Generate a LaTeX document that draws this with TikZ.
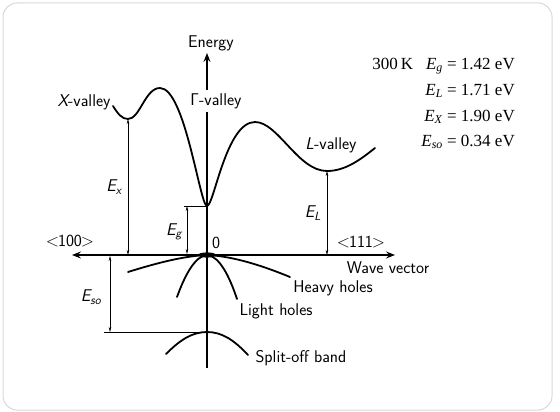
\documentclass[tikz,border=0pt]{standalone}
\usepackage{fontspec}
\newfontfamily\valfont{Liberation Serif}
\usetikzlibrary{arrows.meta}
\tikzset{
  lab/.style={font=\sffamily\fontsize{17}{20}\selectfont, inner sep=1pt},
  val/.style={font=\valfont\fontsize{17}{20}\selectfont, anchor=east, inner sep=0pt},
  band/.style={line width=1.8pt, line cap=round},
  gap/.style={line width=0.6pt, {Stealth[length=5pt,width=2.6pt]}-{Stealth[length=5pt,width=2.6pt]}},
  axis/.style={line width=1.1pt},
}
\newcommand\dirlab[1]{$<$\kern-1pt#1\kern-1pt$>$}
\begin{document}
\begin{tikzpicture}[x=1pt,y=-1pt,>={Stealth[length=9pt,width=7pt,inset=3.5pt]}]
\useasboundingbox (0,0) rectangle (560,412);
\draw[gray!30, line width=1pt, fill=white, rounded corners=14pt] (3,3) rectangle (552,410);
% points of the bands
\coordinate (O) at (207,255);
\coordinate (Xmin) at (128,119);
\coordinate (Gmin) at (207,206);
\coordinate (Lmin) at (327,171);
\coordinate (SOtop) at (207,332);
% axes
\coordinate (kleft) at (72,255); \coordinate (kright) at (395,255);
\coordinate (ebot) at (207,368); \coordinate (etop) at (207,53);
\draw[axis,<->] (kleft) -- (kright);
\draw[axis,->] (ebot) -- (etop);
\node[lab] (energy) at (211,43) {Energy};
% conduction band
\draw[band] (113,106) .. controls (118,114) and (122,119) .. (Xmin)
    .. controls (140,119) and (145,88) .. (160,88)
    .. controls (185,88) and (200,206) .. (Gmin)
    .. controls (214,206) and (226,122) .. (255,122)
    .. controls (278,122) and (298,171) .. (Lmin)
    .. controls (345,171) and (360,160) .. (375,148);
% valence bands
\draw[band] (128,272) .. controls (160,262) and (185,256) .. (O)
    .. controls (229,256) and (256,263) .. (290,277);
\draw[band] (177,297) .. controls (185,275) and (195,256) .. (O)
    .. controls (219,256) and (229,275) .. (237,299);
\draw[band] (166,354) .. controls (180,340) and (192,332) .. (SOtop)
    .. controls (222,332) and (234,340) .. (248,355);
\fill (O) ellipse (9pt and 2.6pt);
% energy gaps
\coordinate (Xaxis) at (Xmin |- O);
\coordinate (Laxis) at (Lmin |- O);
\coordinate (Gleft) at (187,206); \coordinate (Gaxis) at (187,254);
\coordinate (SOa) at (110,256); \coordinate (SOb) at (110,332);
\draw[gap] (Xaxis) -- (Xmin);
\draw[gap] (Laxis) -- (Lmin);
\draw[line width=0.6pt] (184,206) -- (Gmin);
\draw[gap] (Gaxis) -- (Gleft);
\draw[line width=0.6pt] (104,332) -- (SOtop);
\draw[gap] (SOa) -- (SOb);
% labels
\node[lab] (xval) at (84,102) {\itshape X\upshape-valley};
\node[lab,fill=white,inner sep=3pt] (gval) at (216,101) {Γ-valley};
\node[lab] (lval) at (331,145) {\itshape L\upshape-valley};
\node[lab] (ex) at (114,187) {\itshape E\textsubscript{x}};
\node[lab] (eg) at (174,232) {\itshape E\textsubscript{g}};
\node[lab] (el) at (313,213) {\itshape E\textsubscript{L}};
\node[lab] (eso) at (91,297) {\itshape E\textsubscript{so}};
\node[lab] (zero) at (216,243) {0};
\node[lab] (d100) at (70,241) {\dirlab{100}};
\node[lab] (d111) at (361,242) {\dirlab{111}};
\node[lab] (wave) at (388,268) {Wave vector};
\node[lab] (hh) at (333,288) {Heavy holes};
\node[lab] (lh) at (276,311) {Light holes};
\node[lab] (so) at (301,358) {Split-off band};
% values at 300 K
\node[val] (v1) at (515,66) {300\,K\hspace{13pt}\textit{E}\textsubscript{\textit{g}} = 1.42 eV};
\node[val] (v2) at (515,91) {\textit{E}\textsubscript{\textit{L}} = 1.71 eV};
\node[val] (v3) at (515,117) {\textit{E}\textsubscript{\textit{X}} = 1.90 eV};
\node[val] (v4) at (515,142) {\textit{E}\textsubscript{\textit{so}} = 0.34 eV};
\end{tikzpicture}
\end{document}
